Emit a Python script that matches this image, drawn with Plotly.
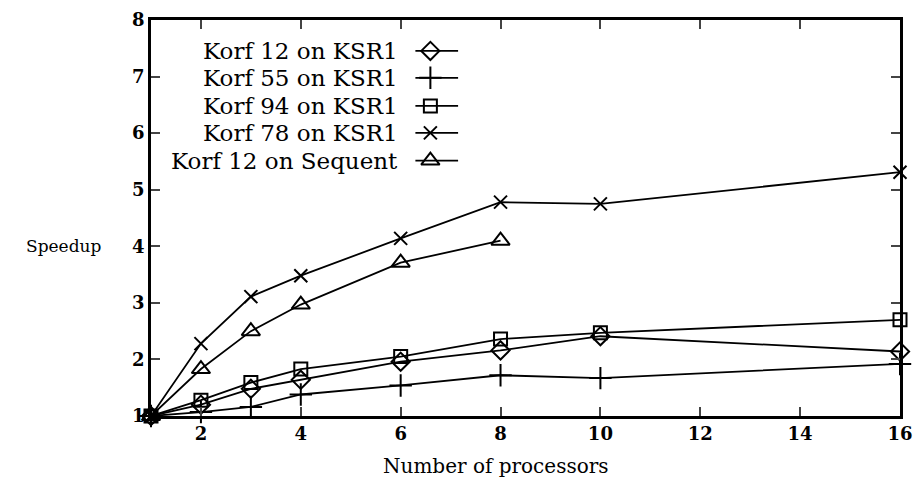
import plotly.graph_objects as go

procs = [1, 2, 3, 4, 6, 8, 10, 16]
procs_seq = [1, 2, 3, 4, 6, 8]

korf12_ksr = [1.0, 1.2, 1.48, 1.64, 1.96, 2.16, 2.41, 2.14]
korf55_ksr = [1.0, 1.07, 1.16, 1.38, 1.54, 1.72, 1.67, 1.92]
korf94_ksr = [1.0, 1.28, 1.59, 1.83, 2.05, 2.36, 2.47, 2.70]
korf78_ksr = [1.0, 2.28, 3.11, 3.48, 4.14, 4.78, 4.75, 5.31]
korf12_seq = [1.0, 1.83, 2.50, 2.97, 3.71, 4.10]

names = ["Korf 12 on KSR1", "Korf 55 on KSR1", "Korf 94 on KSR1",
         "Korf 78 on KSR1", "Korf 12 on Sequent"]
symbols = ["diamond-open", "cross-thin-open", "square-open", "x-thin-open", "triangle-up-open"]
sizes = [14, 16, 13, 13, 16]
xs = [procs, procs, procs, procs, procs_seq]
ys = [korf12_ksr, korf55_ksr, korf94_ksr, korf78_ksr, korf12_seq]

xticks = [2, 4, 6, 8, 10, 12, 14, 16]
yticks = [1, 2, 3, 4, 5, 6, 7, 8]

FONT = "DejaVu Serif"
fig = go.Figure()
for x, y, n, s, sz in zip(xs, ys, names, symbols, sizes):
    fig.add_trace(go.Scatter(x=x, y=y, name=n, mode="lines+markers",
                             line=dict(color="black", width=1.8),
                             marker=dict(symbol=s, size=sz, color="black",
                                         line=dict(color="black", width=2)),
                             showlegend=False, cliponaxis=False))

# manual legend (text to the left of sample, like the original)
leg_y = [0.922, 0.854, 0.783, 0.715, 0.645]
for n, s, sz, ly in zip(names, symbols, sizes, leg_y):
    fig.add_annotation(x=0.333, y=ly, xref="paper", yref="paper", text=n,
                       showarrow=False, xanchor="right", yanchor="middle",
                       font=dict(family=FONT, size=23, color="black"))
    fig.add_trace(go.Scatter(x=[0.353, 0.41], y=[ly, ly], xaxis="x2", yaxis="y2",
                             mode="lines", line=dict(color="black", width=1.8),
                             showlegend=False, hoverinfo="skip"))
    fig.add_trace(go.Scatter(x=[0.373], y=[ly], xaxis="x2", yaxis="y2",
                             mode="markers",
                             marker=dict(symbol=s, size=sz, color="black",
                                         line=dict(color="black", width=2)),
                             showlegend=False, hoverinfo="skip"))

fig.add_annotation(x=-0.064, y=0.43, xref="paper", yref="paper", text="Speedup",
                   showarrow=False, xanchor="right", yanchor="middle",
                   font=dict(family=FONT, size=17, color="black"))
fig.add_annotation(x=0.46, y=-0.125, xref="paper", yref="paper", text="Number of processors",
                   showarrow=False, xanchor="center", yanchor="middle",
                   font=dict(family=FONT, size=20, color="black"))

tickfont = dict(family=FONT, size=18, color="black", weight="bold")
fig.update_layout(
    width=917, height=484,
    margin=dict(l=151, r=17, t=20, b=68, autoexpand=False),
    paper_bgcolor="white", plot_bgcolor="white",
    font=dict(family=FONT, size=20, color="black"),
    xaxis=dict(range=[1, 16], tickvals=xticks, ticks="inside", ticklen=9, tickwidth=2,
               mirror="ticks", showline=True, linewidth=2.5, linecolor="black",
               showgrid=False, zeroline=False, automargin=False,
               tickfont=tickfont, ticklabeloverflow="allow"),
    yaxis=dict(range=[1, 8], tickvals=yticks, ticks="inside", ticklen=9, tickwidth=2,
               mirror="ticks", showline=True, linewidth=2.5, linecolor="black",
               showgrid=False, zeroline=False, automargin=False,
               tickfont=tickfont, ticklabeloverflow="allow"),
    xaxis2=dict(range=[0, 1], overlaying="x", visible=False),
    yaxis2=dict(range=[0, 1], overlaying="y", visible=False),
)
fig.write_html("out.html", config={"displayModeBar": False},
               post_script="document.body.style.margin='0';document.body.style.overflow='hidden';")
